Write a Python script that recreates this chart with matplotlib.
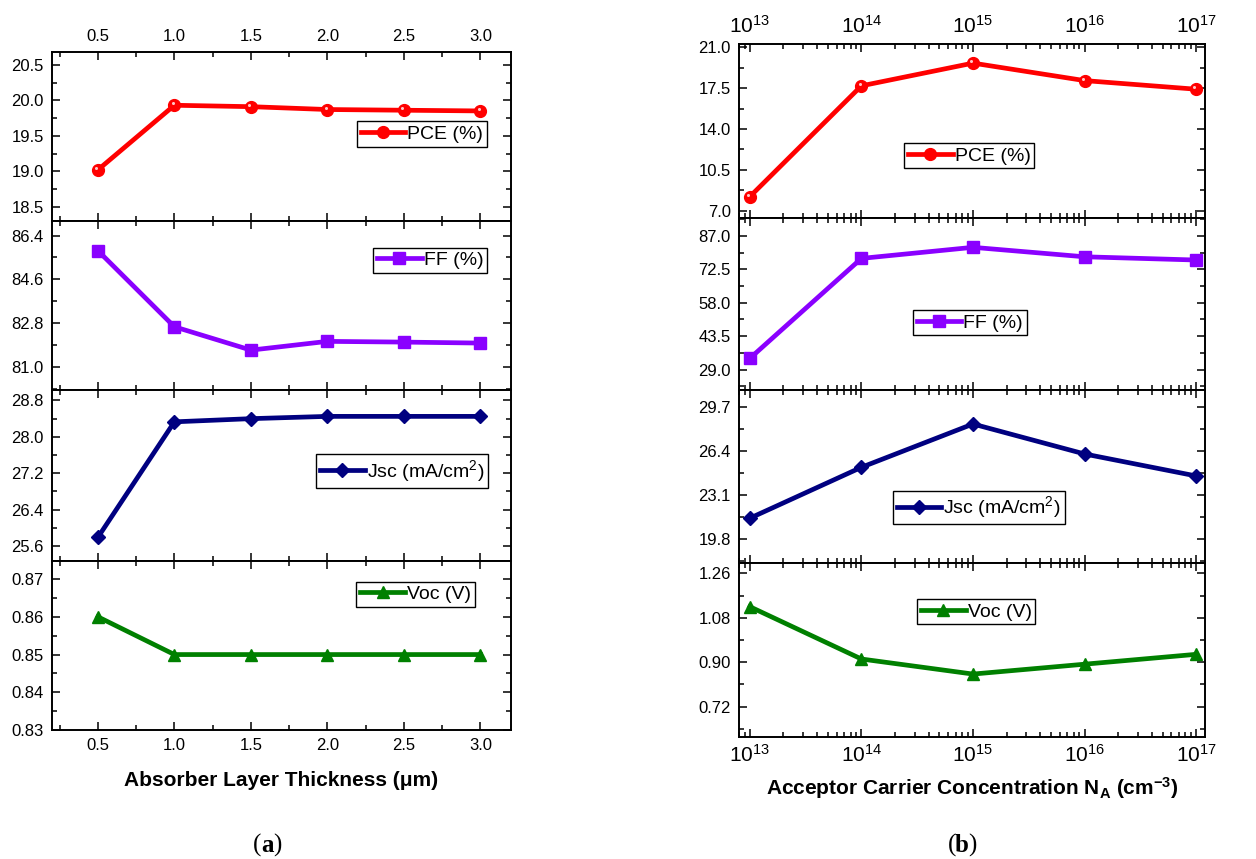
import matplotlib
matplotlib.use("Agg")
import matplotlib.pyplot as plt
import matplotlib.transforms as mtransforms
import numpy as np
from matplotlib.ticker import (FixedLocator, MultipleLocator, FormatStrFormatter,
                               LogLocator, LogFormatterMathtext, NullFormatter)

plt.rcParams["font.family"] = ["Liberation Sans", "DejaVu Sans"]
plt.rcParams["mathtext.fontset"] = "custom"
plt.rcParams["mathtext.rm"] = "Liberation Sans"
plt.rcParams["mathtext.it"] = "Liberation Sans:italic"
plt.rcParams["mathtext.bf"] = "Liberation Sans:bold"

# data (a): absorber layer thickness
thickness = [0.5, 1.0, 1.5, 2.0, 2.5, 3.0]
pce_a = [19.02, 19.93, 19.91, 19.87, 19.86, 19.85]
ff_a = [85.78, 82.65, 81.69, 82.05, 82.02, 81.98]
jsc_a = [25.79, 28.33, 28.40, 28.45, 28.45, 28.45]
voc_a = [0.86, 0.85, 0.85, 0.85, 0.85, 0.85]

# data (b): acceptor carrier concentration
acceptor = [1e13, 1e14, 1e15, 1e16, 1e17]
pce_b = [8.2, 17.71, 19.66, 18.16, 17.42]
ff_b = [33.9, 77.2, 82.0, 77.9, 76.5]
jsc_b = [21.38, 25.2, 28.45, 26.2, 24.55]
voc_b = [1.125, 0.913, 0.852, 0.892, 0.932]

labels = ["PCE (%)", "FF (%)", "Jsc (mA/cm$^2$)", "Voc (V)"]
colors = ["#ff0000", "#8a00ff", "#000080", "#008000"]
markers = ["o", "s", "D", "^"]
msizes = [8.5, 8, 7.5, 9]

# y ticks
yticks_a = [[18.5, 19.0, 19.5, 20.0, 20.5],
            [81.0, 82.8, 84.6, 86.4],
            [25.6, 26.4, 27.2, 28.0, 28.8],
            [0.83, 0.84, 0.85, 0.86, 0.87]]
ylims_a = [(18.3, 20.68), (80.05, 87.0), (25.27, 29.03), (0.83, 0.8748)]
fmts_a = ["%.1f", "%.1f", "%.1f", "%.2f"]

yticks_b = [[7.0, 10.5, 14.0, 17.5, 21.0],
            [29.0, 43.5, 58.0, 72.5, 87.0],
            [19.8, 23.1, 26.4, 29.7],
            [0.72, 0.90, 1.08, 1.26]]
ylims_b = [(6.37, 21.3), (20.2, 94.7), (18.02, 31.0), (0.597, 1.302)]
fmts_b = ["%.1f", "%.1f", "%.1f", "%.2f"]

# legend anchors (axes fraction)
leg_a = [("upper right", (0.948, 0.59)), ("upper right", (0.948, 0.842)),
         ("upper right", (0.95, 0.626)), ("upper right", (0.921, 0.877))]
leg_b = [("upper left", (0.354, 0.431)), ("upper left", (0.373, 0.465)),
         ("upper left", (0.330, 0.418)), ("upper left", (0.382, 0.793))]

W, H = 1256, 859
fig = plt.figure(figsize=(W / 100, H / 100), dpi=100)


def px_axes(x0, x1, y0, y1):
    return fig.add_axes([x0 / W, 1 - y1 / H, (x1 - x0) / W, (y1 - y0) / H])


def style_panel(ax, yticks, ylim, fmt, top, bottom):
    ax.set_ylim(ylim)
    ax.set_yticks(yticks)
    step = yticks[1] - yticks[0]
    ax.yaxis.set_minor_locator(FixedLocator(
        np.arange(yticks[0] - step / 2, yticks[-1] + step, step)))
    ax.yaxis.set_major_formatter(FormatStrFormatter(fmt))
    ax.tick_params(which="both", direction="in", top=True, right=True,
                   labeltop=top, labelbottom=bottom, labelsize=12, width=1.1)
    ax.tick_params(which="major", length=6, pad=6)
    ax.tick_params(which="minor", length=3.5)
    for sp in ax.spines.values():
        sp.set_linewidth(1.4)


def draw_series(ax, x, y, i, leg):
    ax.plot(x, y, color=colors[i], lw=3.4, marker=markers[i], ms=msizes[i],
            mec=colors[i], label=labels[i], zorder=3)
    if i == 0:
        # small highlight for the sphere-like markers
        off = mtransforms.offset_copy(ax.transData, fig=fig, x=-1.8, y=1.8,
                                      units="dots")
        ax.plot(x, y, ls="none", marker="o", ms=2.2, color="#ffc8c8",
                mew=0, transform=off, zorder=4)
    lg = ax.legend(loc=leg[0], bbox_to_anchor=leg[1], frameon=True,
                   fancybox=False, edgecolor="black", framealpha=1,
                   fontsize=14, handlelength=2.3, handletextpad=0.1,
                   borderpad=0.2, borderaxespad=0)
    lg.get_frame().set_linewidth(1.0)


# panel (a)
rows_a = [(52, 221), (221, 390), (390, 561), (561, 730)]
series_a = [pce_a, ff_a, jsc_a, voc_a]
for i, (y0, y1) in enumerate(rows_a):
    ax = px_axes(52, 511, y0, y1)
    draw_series(ax, thickness, series_a[i], i, leg_a[i])
    ax.set_xlim(0.2, 3.2)
    ax.set_xticks(thickness)
    ax.xaxis.set_minor_locator(MultipleLocator(0.25))
    ax.xaxis.set_major_formatter(FormatStrFormatter("%.1f"))
    style_panel(ax, yticks_a[i], ylims_a[i], fmts_a[i], i == 0, i == 3)
    if i == 3:
        ax.set_xlabel("Absorber Layer Thickness (\u03bcm)", fontsize=15,
                      fontweight="bold", labelpad=13)

# panel (b)
rows_b = [(44, 218), (218, 390), (390, 563), (563, 737)]
series_b = [pce_b, ff_b, jsc_b, voc_b]
for i, (y0, y1) in enumerate(rows_b):
    ax = px_axes(739, 1205, y0, y1)
    draw_series(ax, acceptor, series_b[i], i, leg_b[i])
    ax.set_xscale("log")
    ax.set_xlim(8e12, 1.2e17)
    ax.xaxis.set_major_locator(LogLocator(base=10, numticks=10))
    ax.xaxis.set_minor_locator(LogLocator(base=10, subs=np.arange(2, 10),
                                          numticks=20))
    ax.xaxis.set_major_formatter(LogFormatterMathtext())
    ax.xaxis.set_minor_formatter(NullFormatter())
    style_panel(ax, yticks_b[i], ylims_b[i], fmts_b[i], i == 0, i == 3)
    ax.tick_params(axis="x", labelsize=15, pad=5)
    if i == 3:
        ax.set_xlabel(r"Acceptor Carrier Concentration N$\mathbf{_A}$ (cm$\mathbf{^{-3}}$)",
                      fontsize=15, fontweight="bold", labelpad=7)

# captions
for cx, letter in [(267, "a"), (962, "b")]:
    fy = 1 - 845 / H
    fig.text(cx / W, fy, letter, fontsize=18, fontweight="bold",
             family="Liberation Serif", ha="center", va="center")
    fig.text((cx - 6) / W, fy, "(", fontsize=18, family="Liberation Serif",
             ha="right", va="center")
    fig.text((cx + 6) / W, fy, ")", fontsize=18, family="Liberation Serif",
             ha="left", va="center")

fig.savefig("out.png", dpi=100)
